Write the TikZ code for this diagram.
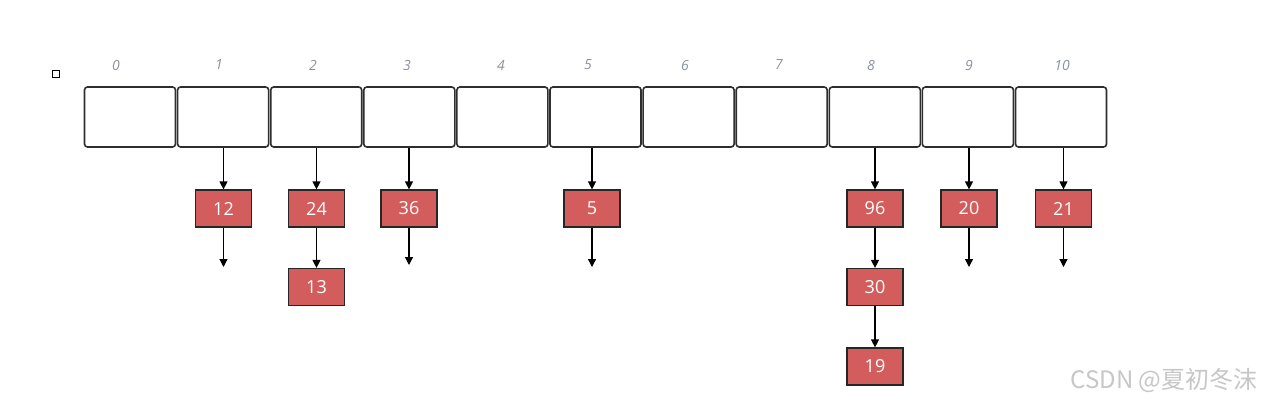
\documentclass[tikz,border=0pt]{standalone}
\usepackage{fontspec}
\setmainfont{Open Sans}
\newfontfamily\cjk{Noto Sans CJK SC}
\usetikzlibrary{arrows.meta}
\definecolor{cellline}{HTML}{2E2E2E}
\definecolor{boxred}{HTML}{D35C5C}
\definecolor{idxgray}{HTML}{8C939E}
\tikzset{
  cell/.style={draw=cellline, line width=1.6pt, rounded corners=3pt, minimum width=91pt, minimum height=60pt, inner sep=0pt},
  valbox/.style={draw=black!85, line width=1.2pt, fill=boxred, minimum width=56pt, minimum height=37pt, inner sep=0pt, text=white, font=\fontsize{18}{20}\selectfont},
  idx/.style={text=idxgray, font=\itshape\fontsize{14}{16}\selectfont},
  arr/.style={draw=black, line width=1.2pt, -{Triangle[length=8pt,width=8pt]}},
}
\begin{document}
\begin{tikzpicture}[x=1pt,y=-1pt]
\useasboundingbox[fill=white] (0,0) rectangle (1264,402);
% small square
\node[draw=black, line width=0.9pt, minimum size=7pt, inner sep=0pt] (sq) at (56,74) {};
% cells
\foreach \i in {0,...,10} {
  \node[cell] (c\i) at ({84+93.1*\i+46},117) {};
}
% index labels
\foreach \i/\x in {0/116,1/219,2/313,3/407,4/501,5/588,6/685,7/779,8/871,9/969,10/1062} {
  \node[idx] (l\i) at (\x,65) {\i};
}
% value boxes
\node[valbox] (n12) at (223.5,208.5) {12};
\node[valbox] (n24) at (316.5,208.5) {24};
\node[valbox] (n13) at (316.5,287) {13};
\node[valbox] (n36) at (409,208.5) {36};
\node[valbox] (n5)  at (592,208.5) {5};
\node[valbox] (n96) at (875,208.5) {96};
\node[valbox] (n30) at (875,287) {30};
\node[valbox] (n19) at (875,366.5) {19};
\node[valbox] (n20) at (969,208.5) {20};
\node[valbox] (n21) at (1063.5,208.5) {21};
% dangling ends
\coordinate (e12) at (223.5,267);
\coordinate (e36) at (409,265);
\coordinate (e5)  at (592,267);
\coordinate (e20) at (969,267);
\coordinate (e21) at (1063.5,267);
% arrows from cells
\draw[arr] (c1.south -| n12) -- (n12.north);
\draw[arr] (c2.south -| n24) -- (n24.north);
\draw[arr] (c3.south -| n36) -- (n36.north);
\draw[arr] (c5.south -| n5) -- (n5.north);
\draw[arr] (c8.south -| n96) -- (n96.north);
\draw[arr] (c9.south -| n20) -- (n20.north);
\draw[arr] (c10.south -| n21) -- (n21.north);
% chains
\draw[arr] (n24.south) -- (n13.north);
\draw[arr] (n96.south) -- (n30.north);
\draw[arr] (n30.south) -- (n19.north);
\draw[arr] (n12.south) -- (e12);
\draw[arr] (n36.south) -- (e36);
\draw[arr] (n5.south) -- (e5);
\draw[arr] (n20.south) -- (e20);
\draw[arr] (n21.south) -- (e21);
% watermark
\node[text=black!22, font=\cjk\fontsize{24}{26}\selectfont, anchor=east] (wm) at (1261,380) {CSDN @夏初冬沫};
\end{tikzpicture}
\end{document}
